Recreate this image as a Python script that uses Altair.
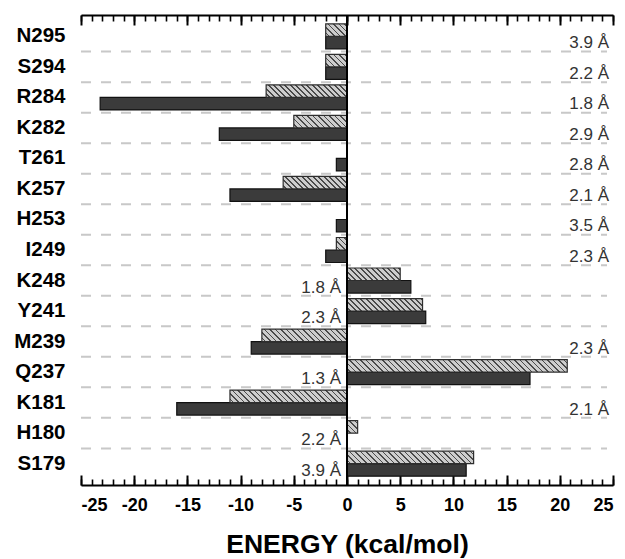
import altair as alt
import pandas as pd

# ---------------- data ----------------
residues = ["N295", "S294", "R284", "K282", "T261", "K257", "H253", "I249",
            "K248", "Y241", "M239", "Q237", "K181", "H180", "S179"]
hatched_energy = [-2, -2, -7.6, -5, 0, -6, 0, -1, 5, 7.1, -8, 20.7, -11, 1, 11.9]
dark_energy = [-2, -2, -23.2, -12, -1, -11, -1, -2, 6, 7.4, -9, 17.2, -16, 0, 11.2]
distances = ["3.9 Å", "2.2 Å", "1.8 Å", "2.9 Å", "2.8 Å", "2.1 Å", "3.5 Å", "2.3 Å",
             "1.8 Å", "2.3 Å", "2.3 Å", "1.3 Å", "2.1 Å", "2.2 Å", "3.9 Å"]
label_side = ["right", "right", "right", "right", "right", "right", "right", "right",
              "left", "left", "right", "left", "right", "left", "left"]
major_ticks = list(range(-25, 26, 5))
minor_ticks = list(range(-25, 26, 1))
x_title = "ENERGY (kcal/mol)"

# ---------------- layout ----------------
W, H = 532, 470
XMIN, XMAX = -25, 25
FONT = "Liberation Sans"
PAD_OUT, SUB_PAD = 0.2, 0.22

rows = []
for r, hv, dv in zip(residues, hatched_energy, dark_energy):
    rows.append({"residue": r, "series": "hatched", "energy": hv})
    rows.append({"residue": r, "series": "dark", "energy": dv})
df = pd.DataFrame(rows)
ann = pd.DataFrame({"residue": residues, "dist": distances, "side": label_side})
grid_df = pd.DataFrame({"residue": residues[1:]})

xscale = alt.Scale(domain=[XMIN, XMAX], nice=False, zero=False)
yscale = alt.Scale(domain=residues, paddingInner=0, paddingOuter=PAD_OUT)
offscale = alt.Scale(domain=["hatched", "dark"], paddingInner=0, paddingOuter=SUB_PAD)

step = H / (len(residues) + 2 * PAD_OUT)
bar_h = step / (2 + 2 * SUB_PAD)


def hatch(w, h, period=5.5, lw=1.8, bg="#cdcdcd", fg="#4a4a4a"):
    L = w + h
    stops = [alt.GradientStop(offset=0, color=bg)]
    pos = period / 2
    while pos < L:
        a = round(pos / L, 5)
        b = round(min((pos + lw) / L, 1), 5)
        stops += [alt.GradientStop(offset=a, color=bg),
                  alt.GradientStop(offset=a, color=fg),
                  alt.GradientStop(offset=b, color=fg),
                  alt.GradientStop(offset=b, color=bg)]
        pos += period
    stops.append(alt.GradientStop(offset=1, color=bg))
    s = L / (w * w + h * h)
    return alt.LinearGradient(gradient="linear", stops=stops,
                              x1=0, y1=1, x2=w * s, y2=1 - h * s)


def yenc(axis=None, **kw):
    return alt.Y("residue:N", scale=yscale, axis=axis, title=None, **kw)


def xenc(axis=None):
    return alt.X("energy:Q", scale=xscale, axis=axis, title=None)


yoff = alt.YOffset("series:N", scale=offscale)

# gridlines between categories
grid = alt.Chart(grid_df).mark_rule(
    stroke="#c8c8c8", strokeWidth=2, strokeDash=[10, 10]
).encode(y=yenc(bandPosition=0), x=alt.value(0), x2=alt.value(W - 6))

# dark bars (carry y labels + bottom x labels)
y_axis = alt.Axis(labelFontSize=20.5, labelFontWeight="bold", labelColor="black",
                  labelFont=FONT, ticks=False, domain=False, grid=False,
                  labelPadding=16)
x_label_axis = alt.Axis(orient="bottom", values=major_ticks,
                        labelExpr="'' + datum.value",
                        labelFontSize=18, labelFontWeight="bold", labelColor="black",
                        labelFont=FONT, ticks=False, domain=False, grid=False,
                        labelPadding=11, title=x_title, titleFont=FONT,
                        titleFontSize=26.5, titleFontWeight="bold", titleColor="black",
                        titlePadding=17)
dark = alt.Chart(df).transform_filter(alt.datum.series == "dark").mark_bar(
    fill="#3b3b3b", stroke="#111111", strokeWidth=1.2
).encode(x=alt.X("energy:Q", scale=xscale, axis=x_label_axis, title=x_title),
         y=yenc(axis=y_axis), yOffset=yoff)

hatched_layers = []
for r, hv in zip(residues, hatched_energy):
    if hv == 0:
        continue
    w = abs(hv) * W / (XMAX - XMIN)
    hatched_layers.append(
        alt.Chart(df).transform_filter(
            (alt.datum.residue == r) & (alt.datum.series == "hatched")
        ).mark_bar(fill=hatch(w, bar_h), stroke="#2e2e2e", strokeWidth=1.2)
        .encode(x=xenc(), y=yenc(), yOffset=yoff)
    )

zero = alt.Chart(pd.DataFrame({"z": [0]})).mark_rule(color="black", strokeWidth=2).encode(
    x=alt.XDatum(0, scale=xscale, axis=None), y=alt.value(0), y2=alt.value(H))

txt_style = dict(baseline="middle", dy=7, fontSize=17, font=FONT, color="#333333")
ann_right = alt.Chart(ann).transform_filter(alt.datum.side == "right").mark_text(
    align="right", **txt_style
).encode(x=alt.value(W - 4), y=yenc(), text="dist:N")
ann_left = alt.Chart(ann).transform_filter(alt.datum.side == "left").mark_text(
    align="right", dx=-6, **txt_style
).encode(x=alt.XDatum(0, scale=xscale, axis=None), y=yenc(), text="dist:N")


def tick_layer(orient, values, size, width, domain):
    ax = alt.Axis(orient=orient, offset=-H, values=values, tickSize=size,
                  tickWidth=width, tickColor="black", labels=False, grid=False,
                  domain=domain, domainColor="black", domainWidth=2, title=None)
    return alt.Chart(df).mark_point(opacity=0, size=0).encode(
        x=alt.X("energy:Q", scale=xscale, axis=ax, title=None))


ticks = [
    tick_layer("top", major_ticks, 10, 2, True),     # drawn at bottom edge, pointing up
    tick_layer("top", minor_ticks, 6, 1.6, False),
    tick_layer("bottom", major_ticks, 10, 2, True),  # drawn at top edge, pointing down
    tick_layer("bottom", minor_ticks, 6, 1.6, False),
]

chart = alt.layer(grid, dark, *hatched_layers, zero, ann_right, ann_left, *ticks).resolve_axis(
    x="independent", y="independent"
).properties(
    width=W, height=H,
    autosize=alt.AutoSizeParams(type="none"),
    padding={"left": 81, "top": 15, "right": 12, "bottom": 74},
    background="white",
).configure_view(stroke=None)

chart.save("out.html", embed_options={"renderer": "svg", "actions": False})
